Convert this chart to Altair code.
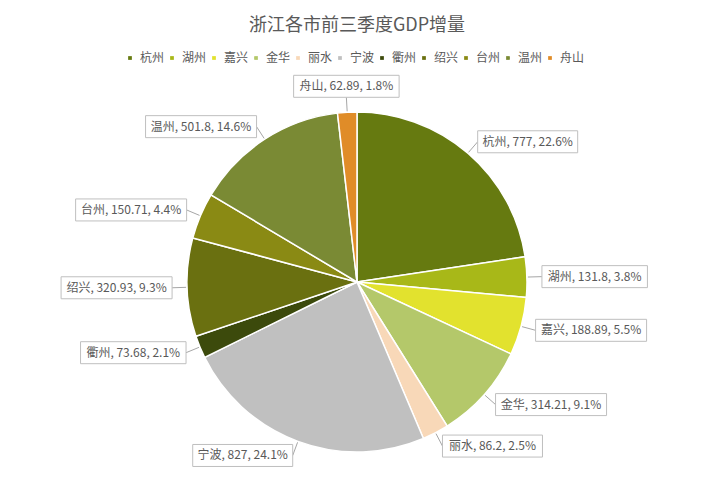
import altair as alt
import pandas as pd

cities = ["杭州", "湖州", "嘉兴", "金华", "丽水", "宁波", "衢州", "绍兴", "台州", "温州", "舟山"]
values = [777, 131.8, 188.89, 314.21, 86.2, 827, 73.68, 320.93, 150.71, 501.8, 62.89]
colors = ["#667a10", "#a8b818", "#e2e22e", "#b4c86a", "#f8d8b8", "#c0c0c0",
          "#3c4a0c", "#6a7010", "#8a8a14", "#7a8a34", "#e08c28"]

df = pd.DataFrame({"city": cities, "value": values, "order": list(range(len(cities)))})

FONT = "Noto Sans CJK SC"
CX, CY, R = 349, 274, 170
RA = 185
BH = 22

base = alt.Chart(df)

pie = base.mark_arc(outerRadius=R, stroke="white", strokeWidth=1.5).encode(
    theta=alt.Theta("value:Q", stack=True),
    order=alt.Order("order:Q"),
    color=alt.Color(
        "city:N",
        scale=alt.Scale(domain=cities, range=colors),
        legend=alt.Legend(
            title=None, orient="none", legendX=116, legendY=44, direction="horizontal",
            columns=11, symbolType="square", symbolSize=14, labelFontSize=12,
            labelColor="#595959", labelFont=FONT, columnPadding=1, labelOffset=4,
            symbolStrokeWidth=0,
        ),
    ),
    x=alt.value(CX),
    y=alt.value(CY),
)

lab = base.transform_joinaggregate(total="sum(value)").transform_window(
    cum="sum(value)", sort=[alt.SortField("order")], frame=[None, 0]
).transform_calculate(
    mid="(datum.cum - datum.value/2) / datum.total * 2 * PI",
    label="datum.city + ', ' + datum.value + ', ' + format(datum.value / datum.total, '.1%')",
).transform_calculate(
    s="sin(datum.mid)", c="cos(datum.mid)",
    bw="24 + (length(datum.label) - 2) * 5.5 + 10",
).transform_calculate(
    ax=f"{CX} + {RA} * datum.s", ay=f"{CY} - {RA} * datum.c",
    ex=f"{CX} + {R + 1} * datum.s", ey=f"{CY} - {R + 1} * datum.c",
).transform_calculate(
    bx1="datum.s >= 0.15 ? datum.ax : (datum.s <= -0.15 ? datum.ax - datum.bw : datum.ax - datum.bw/2)",
    by1=f"abs(datum.s) < 0.15 ? datum.ay - {BH} : datum.ay - {BH}/2",
).transform_calculate(
    bx2="datum.bx1 + datum.bw", by2=f"datum.by1 + {BH}",
    tx="datum.bx1 + datum.bw/2", ty=f"datum.by1 + {BH}/2",
)

leader = lab.mark_rule(color="#a6a6a6", strokeWidth=1).encode(
    x=alt.X("ex:Q", scale=None), y=alt.Y("ey:Q", scale=None),
    x2="ax:Q", y2="ay:Q",
)

box = lab.mark_rect(fill="white", stroke="#bfbfbf", strokeWidth=1).encode(
    x=alt.X("bx1:Q", scale=None), x2="bx2:Q",
    y=alt.Y("by1:Q", scale=None), y2="by2:Q",
)

text = lab.mark_text(font=FONT, fontSize=12, color="#595959", align="center", baseline="middle").encode(
    x=alt.X("tx:Q", scale=None), y=alt.Y("ty:Q", scale=None), text="label:N",
)

title = alt.Chart(pd.DataFrame({"t": ["浙江各市前三季度GDP增量"]})).mark_text(
    font=FONT, fontSize=18, color="#595959", align="center", baseline="middle"
).encode(x=alt.value(349), y=alt.value(18), text="t:N")

chart = alt.layer(pie, leader, box, text, title).properties(
    width=695, height=484, autosize=alt.AutoSizeParams(type="none"), padding=0,
).configure_view(stroke=None)

chart.save("out.html", embed_options={"renderer": "svg", "actions": False})
